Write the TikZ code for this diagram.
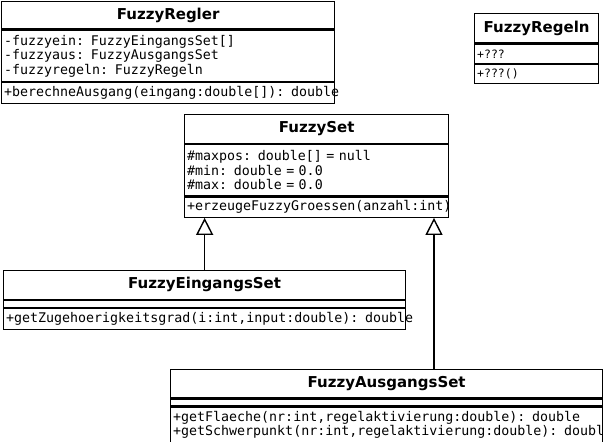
\documentclass[tikz,border=0pt]{standalone}
\usepackage{fontspec}
\setmainfont{DejaVu Sans}
\setmonofont{DejaVu Sans Mono}
\usetikzlibrary{arrows.meta}

\begin{document}
\begin{tikzpicture}[x=1pt, y=-1pt,
    classname/.style={draw, line width=1.3pt, anchor=north west, inner sep=0pt,
        font=\bfseries\fontsize{15}{17}\selectfont},
    members/.style={draw, line width=1.3pt, anchor=north west, inner xsep=2.5pt, inner ysep=0pt,
        text width=#1-5pt, align=left, font=\ttfamily\fontsize{13.3}{14.5}\selectfont},
    inherit/.style={line width=1.4pt, -{Triangle[open, length=17pt, width=17pt, line width=1.4pt]}}]
    \useasboundingbox (0,0) rectangle (604,441);

    % FuzzyRegler
    \node[classname, minimum width=333pt, minimum height=27.5pt] (reglerT) at (1,1) {FuzzyRegler};
    \node[members=333pt, minimum height=51pt] (reglerA) at (reglerT.south west)
        {\mbox{-fuzzyein: FuzzyEingangsSet[]}\\\mbox{-fuzzyaus: FuzzyAusgangsSet}\\\mbox{-fuzzyregeln: FuzzyRegeln}};
    \node[members=333pt, minimum height=20.5pt] (reglerM) at (reglerA.south west)
        {\mbox{+berechneAusgang(eingang:double[]): double}};

    % FuzzyRegeln
    \node[classname, minimum width=124pt, minimum height=29.5pt] (regelnT) at (474,13) {FuzzyRegeln};
    \node[members=124pt, minimum height=19pt, font=\ttfamily\fontsize{11.5}{13}\selectfont] (regelnA) at (regelnT.south west) {+???};
    \node[members=124pt, minimum height=19pt, font=\ttfamily\fontsize{11.5}{13}\selectfont] (regelnM) at (regelnA.south west) {+???()};

    % FuzzySet
    \node[classname, minimum width=264pt, minimum height=28.5pt] (setT) at (184,114) {FuzzySet};
    \node[members=264pt, minimum height=51.5pt] (setA) at (setT.south west)
        {\mbox{\#maxpos: double[] = null}\\\mbox{\#min: double = 0.0}\\\mbox{\#max: double = 0.0}};
    \node[members=264pt, minimum height=20pt] (setM) at (setA.south west)
        {\mbox{+erzeugeFuzzyGroessen(anzahl:int)}};

    % FuzzyEingangsSet
    \node[classname, minimum width=402pt, minimum height=28.5pt] (eingT) at (3,270) {FuzzyEingangsSet};
    \node[members=402pt, minimum height=7pt] (eingA) at (eingT.south west) {};
    \node[members=402pt, minimum height=21pt] (eingM) at (eingA.south west)
        {\mbox{+getZugehoerigkeitsgrad(i:int,input:double): double}};

    % FuzzyAusgangsSet
    \node[classname, minimum width=432pt, minimum height=28pt] (ausT) at (170,369) {FuzzyAusgangsSet};
    \node[members=432pt, minimum height=7pt] (ausA) at (ausT.south west) {};
    \node[members=432pt, minimum height=35pt] (ausM) at (ausA.south west)
        {\mbox{+getFlaeche(nr:int,regelaktivierung:double): double}\\\mbox{+getSchwerpunkt(nr:int,regelaktivierung:double): double}};

    % Edges
    \coordinate (ausTop) at (434,369);
    \draw[inherit] (eingT.north) -- (eingT.north |- setM.south);
    \draw[inherit] (ausTop) -- (ausTop |- setM.south);
\end{tikzpicture}
\end{document}
